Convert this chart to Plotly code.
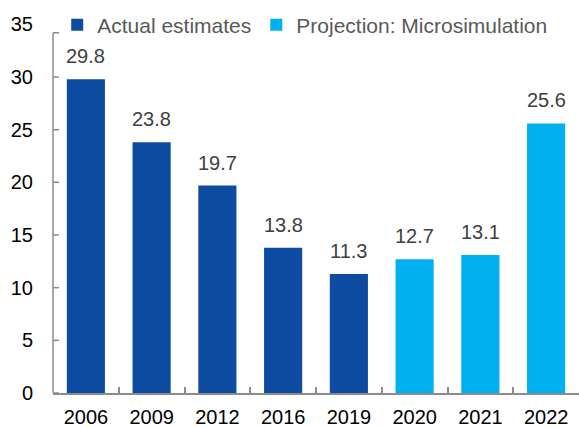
import plotly.graph_objects as go

# Survey years and estimates
years_actual = ["2006", "2009", "2012", "2016", "2019"]
values_actual = [29.8, 23.8, 19.7, 13.8, 11.3]
years_proj = ["2020", "2021", "2022"]
values_proj = [12.7, 13.1, 25.6]

y_ticks = [0, 5, 10, 15, 20, 25, 30, 35]
axis_top = 34.2  # the vertical axis line stops just under the last label

DARK = "#0E4CA1"
LIGHT = "#00B0F0"
AXIS = "#8C8C8C"
FONT = "Liberation Sans, Arial, sans-serif"

all_years = years_actual + years_proj
all_values = values_actual + values_proj

fig = go.Figure()
fig.add_trace(go.Bar(x=years_actual, y=values_actual, name="Actual estimates",
                     marker=dict(color=DARK, line=dict(width=0))))
fig.add_trace(go.Bar(x=years_proj, y=values_proj, name="Projection: Microsimulation",
                     marker=dict(color=LIGHT, line=dict(width=0))))

# value labels above each bar (positioned by category index)
for i, v in enumerate(all_values):
    fig.add_annotation(x=i, y=v, xref="x", yref="y", text=f"{v:.1f}",
                       showarrow=False, yanchor="bottom", yshift=10,
                       font=dict(family=FONT, size=20, color="#404040"))

# vertical axis line with inside tick marks
fig.add_shape(type="line", xref="paper", yref="y", x0=0, x1=0, y0=0, y1=axis_top,
              line=dict(color=AXIS, width=1.5))
for t in [v for v in y_ticks if v <= axis_top] + [axis_top]:
    fig.add_shape(type="line", xref="paper", xsizemode="pixel", xanchor=0,
                  x0=0, x1=6, yref="y", y0=t, y1=t,
                  line=dict(color=AXIS, width=1.5))

fig.update_layout(
    width=579, height=427, autosize=False,
    margin=dict(l=53, r=0, t=0, b=34, pad=0, autoexpand=False),
    paper_bgcolor="white", plot_bgcolor="white",
    barmode="relative", bargap=0.42,
    font=dict(family=FONT, color="#000000"),
    showlegend=True,
    legend=dict(orientation="h", x=0.008, y=0.936,
                xanchor="left", yanchor="middle",
                font=dict(family=FONT, size=21, color="#595959"),
                bgcolor="rgba(0,0,0,0)", traceorder="normal"),
)
fig.update_xaxes(type="category", categoryorder="array", categoryarray=all_years,
                 range=[-0.5, len(all_years) - 0.5], automargin=False,
                 showline=True, linecolor=AXIS, linewidth=1.5,
                 ticks="inside", tickson="boundaries", ticklen=6, tickcolor=AXIS,
                 tickwidth=1.5, showgrid=False, zeroline=False,
                 tickfont=dict(family=FONT, size=20, color="#000000"),
                 ticklabelstandoff=5)
fig.update_yaxes(range=[0, 35], domain=[0, (393 - 24.4) / 393], automargin=False,
                 tickvals=y_ticks, ticks="", showline=False,
                 showgrid=False, zeroline=False,
                 tickfont=dict(family=FONT, size=20, color="#000000"),
                 ticklabelstandoff=19)

fig.write_html("out.html")
